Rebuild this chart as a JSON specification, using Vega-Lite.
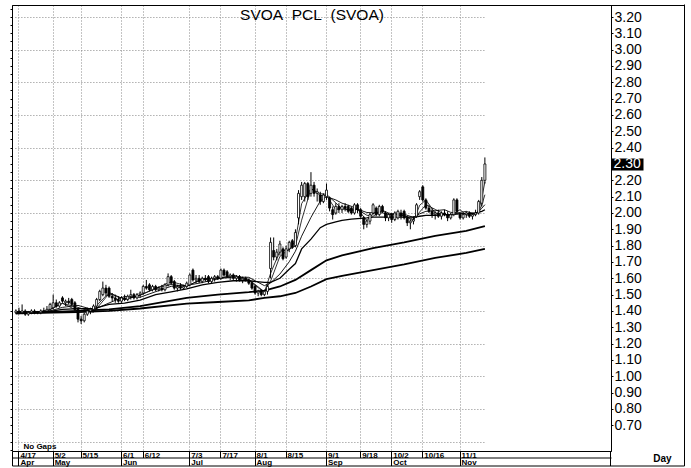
{
"$schema":"https://vega.github.io/schema/vega-lite/v6.json",
"width":599,"height":446,
"autosize":{"type":"none"},
"padding":{"left":12,"top":5,"right":80,"bottom":17},
"background":"white",
"config":{"view":{"stroke":"black","strokeWidth":1},"font":"Liberation Sans","axis":{"labelFont":"Liberation Sans","titleFont":"Liberation Sans"}},
"datasets":{
"k":[
{"d":"2023-04-14","o":1.39,"h":1.41,"l":1.38,"c":1.40},
{"d":"2023-04-17","o":1.40,"h":1.42,"l":1.38,"c":1.39},
{"d":"2023-04-18","o":1.39,"h":1.44,"l":1.38,"c":1.40},
{"d":"2023-04-19","o":1.40,"h":1.41,"l":1.37,"c":1.38},
{"d":"2023-04-20","o":1.38,"h":1.40,"l":1.37,"c":1.39},
{"d":"2023-04-21","o":1.39,"h":1.41,"l":1.38,"c":1.40},
{"d":"2023-04-24","o":1.40,"h":1.41,"l":1.38,"c":1.39},
{"d":"2023-04-25","o":1.39,"h":1.40,"l":1.38,"c":1.39},
{"d":"2023-04-26","o":1.39,"h":1.41,"l":1.38,"c":1.40},
{"d":"2023-04-27","o":1.40,"h":1.42,"l":1.39,"c":1.40},
{"d":"2023-04-28","o":1.40,"h":1.43,"l":1.39,"c":1.41},
{"d":"2023-05-01","o":1.41,"h":1.45,"l":1.40,"c":1.44},
{"d":"2023-05-02","o":1.42,"h":1.50,"l":1.41,"c":1.45},
{"d":"2023-05-03","o":1.45,"h":1.47,"l":1.42,"c":1.43},
{"d":"2023-05-04","o":1.43,"h":1.46,"l":1.42,"c":1.45},
{"d":"2023-05-05","o":1.48,"h":1.49,"l":1.45,"c":1.46},
{"d":"2023-05-08","o":1.45,"h":1.47,"l":1.43,"c":1.46},
{"d":"2023-05-09","o":1.46,"h":1.48,"l":1.44,"c":1.45},
{"d":"2023-05-10","o":1.47,"h":1.48,"l":1.43,"c":1.44},
{"d":"2023-05-11","o":1.45,"h":1.46,"l":1.40,"c":1.41},
{"d":"2023-05-12","o":1.41,"h":1.42,"l":1.33,"c":1.35},
{"d":"2023-05-15","o":1.35,"h":1.37,"l":1.32,"c":1.34},
{"d":"2023-05-16","o":1.34,"h":1.39,"l":1.33,"c":1.38},
{"d":"2023-05-17","o":1.38,"h":1.42,"l":1.37,"c":1.40},
{"d":"2023-05-18","o":1.40,"h":1.42,"l":1.38,"c":1.41},
{"d":"2023-05-19","o":1.41,"h":1.44,"l":1.40,"c":1.43},
{"d":"2023-05-22","o":1.43,"h":1.48,"l":1.41,"c":1.47},
{"d":"2023-05-23","o":1.47,"h":1.53,"l":1.46,"c":1.52},
{"d":"2023-05-24","o":1.50,"h":1.58,"l":1.49,"c":1.54},
{"d":"2023-05-25","o":1.54,"h":1.56,"l":1.49,"c":1.51},
{"d":"2023-05-26","o":1.54,"h":1.55,"l":1.48,"c":1.49},
{"d":"2023-05-29","o":1.49,"h":1.51,"l":1.46,"c":1.48},
{"d":"2023-05-30","o":1.48,"h":1.50,"l":1.45,"c":1.47},
{"d":"2023-05-31","o":1.47,"h":1.49,"l":1.45,"c":1.46},
{"d":"2023-06-01","o":1.46,"h":1.49,"l":1.45,"c":1.48},
{"d":"2023-06-02","o":1.48,"h":1.50,"l":1.46,"c":1.47},
{"d":"2023-06-05","o":1.47,"h":1.50,"l":1.46,"c":1.49},
{"d":"2023-06-06","o":1.49,"h":1.53,"l":1.47,"c":1.50},
{"d":"2023-06-07","o":1.50,"h":1.51,"l":1.47,"c":1.48},
{"d":"2023-06-08","o":1.48,"h":1.51,"l":1.47,"c":1.50},
{"d":"2023-06-09","o":1.50,"h":1.52,"l":1.48,"c":1.51},
{"d":"2023-06-12","o":1.51,"h":1.56,"l":1.50,"c":1.55},
{"d":"2023-06-13","o":1.55,"h":1.59,"l":1.53,"c":1.54},
{"d":"2023-06-14","o":1.56,"h":1.57,"l":1.52,"c":1.53},
{"d":"2023-06-15","o":1.53,"h":1.56,"l":1.52,"c":1.55},
{"d":"2023-06-16","o":1.55,"h":1.56,"l":1.52,"c":1.53},
{"d":"2023-06-19","o":1.53,"h":1.55,"l":1.52,"c":1.54},
{"d":"2023-06-20","o":1.54,"h":1.56,"l":1.52,"c":1.53},
{"d":"2023-06-21","o":1.53,"h":1.57,"l":1.52,"c":1.56},
{"d":"2023-06-22","o":1.56,"h":1.63,"l":1.55,"c":1.61},
{"d":"2023-06-23","o":1.61,"h":1.62,"l":1.56,"c":1.57},
{"d":"2023-06-26","o":1.58,"h":1.59,"l":1.53,"c":1.54},
{"d":"2023-06-27","o":1.54,"h":1.56,"l":1.52,"c":1.55},
{"d":"2023-06-28","o":1.55,"h":1.57,"l":1.53,"c":1.54},
{"d":"2023-06-29","o":1.54,"h":1.56,"l":1.53,"c":1.55},
{"d":"2023-06-30","o":1.55,"h":1.58,"l":1.54,"c":1.57},
{"d":"2023-07-03","o":1.56,"h":1.63,"l":1.55,"c":1.62},
{"d":"2023-07-04","o":1.65,"h":1.66,"l":1.58,"c":1.59},
{"d":"2023-07-05","o":1.59,"h":1.62,"l":1.57,"c":1.60},
{"d":"2023-07-06","o":1.60,"h":1.62,"l":1.57,"c":1.58},
{"d":"2023-07-07","o":1.58,"h":1.61,"l":1.57,"c":1.60},
{"d":"2023-07-10","o":1.60,"h":1.62,"l":1.58,"c":1.59},
{"d":"2023-07-11","o":1.61,"h":1.62,"l":1.57,"c":1.58},
{"d":"2023-07-12","o":1.58,"h":1.61,"l":1.57,"c":1.60},
{"d":"2023-07-13","o":1.60,"h":1.62,"l":1.58,"c":1.61},
{"d":"2023-07-14","o":1.61,"h":1.62,"l":1.59,"c":1.60},
{"d":"2023-07-17","o":1.60,"h":1.66,"l":1.59,"c":1.65},
{"d":"2023-07-18","o":1.65,"h":1.66,"l":1.61,"c":1.62},
{"d":"2023-07-19","o":1.64,"h":1.65,"l":1.60,"c":1.61},
{"d":"2023-07-20","o":1.61,"h":1.63,"l":1.59,"c":1.62},
{"d":"2023-07-21","o":1.62,"h":1.63,"l":1.59,"c":1.60},
{"d":"2023-07-24","o":1.60,"h":1.62,"l":1.58,"c":1.61},
{"d":"2023-07-25","o":1.61,"h":1.62,"l":1.58,"c":1.59},
{"d":"2023-07-26","o":1.59,"h":1.61,"l":1.57,"c":1.60},
{"d":"2023-07-27","o":1.60,"h":1.61,"l":1.58,"c":1.59},
{"d":"2023-07-28","o":1.59,"h":1.60,"l":1.56,"c":1.57},
{"d":"2023-07-31","o":1.57,"h":1.58,"l":1.53,"c":1.54},
{"d":"2023-08-01","o":1.55,"h":1.56,"l":1.50,"c":1.51},
{"d":"2023-08-02","o":1.51,"h":1.53,"l":1.49,"c":1.52},
{"d":"2023-08-03","o":1.52,"h":1.53,"l":1.49,"c":1.50},
{"d":"2023-08-04","o":1.50,"h":1.53,"l":1.49,"c":1.52},
{"d":"2023-08-07","o":1.52,"h":1.56,"l":1.50,"c":1.55},
{"d":"2023-08-08","o":1.66,"h":1.85,"l":1.60,"c":1.82},
{"d":"2023-08-09","o":1.77,"h":1.85,"l":1.71,"c":1.73},
{"d":"2023-08-10","o":1.73,"h":1.78,"l":1.71,"c":1.76},
{"d":"2023-08-11","o":1.76,"h":1.83,"l":1.74,"c":1.81},
{"d":"2023-08-14","o":1.78,"h":1.79,"l":1.71,"c":1.72},
{"d":"2023-08-15","o":1.73,"h":1.80,"l":1.72,"c":1.78},
{"d":"2023-08-16","o":1.78,"h":1.83,"l":1.76,"c":1.82},
{"d":"2023-08-17","o":1.83,"h":1.84,"l":1.78,"c":1.79},
{"d":"2023-08-18","o":1.80,"h":1.90,"l":1.79,"c":1.88},
{"d":"2023-08-21","o":1.97,"h":2.14,"l":1.93,"c":2.12},
{"d":"2023-08-22","o":2.10,"h":2.19,"l":2.08,"c":2.17},
{"d":"2023-08-23","o":2.10,"h":2.19,"l":2.07,"c":2.18},
{"d":"2023-08-24","o":2.18,"h":2.19,"l":2.08,"c":2.10},
{"d":"2023-08-25","o":2.12,"h":2.25,"l":2.10,"c":2.17},
{"d":"2023-08-28","o":2.17,"h":2.19,"l":2.10,"c":2.12},
{"d":"2023-08-29","o":2.12,"h":2.15,"l":2.07,"c":2.13},
{"d":"2023-08-30","o":2.11,"h":2.13,"l":2.05,"c":2.07},
{"d":"2023-08-31","o":2.07,"h":2.12,"l":2.06,"c":2.11},
{"d":"2023-09-01","o":2.10,"h":2.18,"l":2.08,"c":2.14},
{"d":"2023-09-04","o":2.09,"h":2.10,"l":2.01,"c":2.03},
{"d":"2023-09-05","o":2.02,"h":2.04,"l":1.96,"c":1.99},
{"d":"2023-09-06","o":2.00,"h":2.06,"l":1.99,"c":2.04},
{"d":"2023-09-07","o":2.04,"h":2.06,"l":2.00,"c":2.02},
{"d":"2023-09-08","o":2.02,"h":2.05,"l":2.00,"c":2.04},
{"d":"2023-09-11","o":2.04,"h":2.06,"l":2.01,"c":2.03},
{"d":"2023-09-12","o":2.04,"h":2.05,"l":2.00,"c":2.01},
{"d":"2023-09-13","o":2.03,"h":2.04,"l":1.99,"c":2.00},
{"d":"2023-09-14","o":2.00,"h":2.06,"l":1.99,"c":2.05},
{"d":"2023-09-15","o":2.05,"h":2.06,"l":2.00,"c":2.02},
{"d":"2023-09-18","o":2.02,"h":2.03,"l":1.97,"c":1.98},
{"d":"2023-09-19","o":1.97,"h":1.98,"l":1.90,"c":1.93},
{"d":"2023-09-20","o":1.93,"h":1.96,"l":1.91,"c":1.95},
{"d":"2023-09-21","o":1.95,"h":2.00,"l":1.93,"c":1.99},
{"d":"2023-09-22","o":2.00,"h":2.06,"l":1.99,"c":2.05},
{"d":"2023-09-25","o":2.03,"h":2.04,"l":1.98,"c":1.99},
{"d":"2023-09-26","o":1.99,"h":2.05,"l":1.98,"c":2.04},
{"d":"2023-09-27","o":2.04,"h":2.05,"l":2.00,"c":2.01},
{"d":"2023-09-28","o":2.00,"h":2.01,"l":1.95,"c":1.97},
{"d":"2023-09-29","o":1.97,"h":2.00,"l":1.95,"c":1.99},
{"d":"2023-10-02","o":1.99,"h":2.00,"l":1.94,"c":1.96},
{"d":"2023-10-03","o":1.96,"h":2.01,"l":1.95,"c":2.00},
{"d":"2023-10-04","o":1.97,"h":2.02,"l":1.96,"c":2.01},
{"d":"2023-10-05","o":2.00,"h":2.02,"l":1.96,"c":1.98},
{"d":"2023-10-06","o":2.01,"h":2.02,"l":1.96,"c":1.97},
{"d":"2023-10-09","o":1.97,"h":1.98,"l":1.92,"c":1.94},
{"d":"2023-10-10","o":1.94,"h":1.96,"l":1.90,"c":1.95},
{"d":"2023-10-11","o":1.95,"h":1.98,"l":1.93,"c":1.96},
{"d":"2023-10-12","o":1.98,"h":2.06,"l":1.97,"c":2.05},
{"d":"2023-10-13","o":2.10,"h":2.14,"l":2.08,"c":2.13},
{"d":"2023-10-16","o":2.16,"h":2.17,"l":2.07,"c":2.08},
{"d":"2023-10-17","o":2.08,"h":2.09,"l":2.02,"c":2.03},
{"d":"2023-10-18","o":2.03,"h":2.05,"l":2.00,"c":2.01},
{"d":"2023-10-19","o":2.01,"h":2.03,"l":1.97,"c":1.99},
{"d":"2023-10-20","o":1.99,"h":2.01,"l":1.96,"c":2.00},
{"d":"2023-10-23","o":2.00,"h":2.02,"l":1.97,"c":1.98},
{"d":"2023-10-24","o":1.98,"h":2.01,"l":1.96,"c":2.00},
{"d":"2023-10-25","o":2.00,"h":2.02,"l":1.98,"c":1.99},
{"d":"2023-10-26","o":1.99,"h":2.01,"l":1.95,"c":1.97},
{"d":"2023-10-27","o":1.97,"h":2.00,"l":1.96,"c":1.99},
{"d":"2023-10-30","o":1.99,"h":2.09,"l":1.98,"c":2.08},
{"d":"2023-10-31","o":2.08,"h":2.09,"l":2.00,"c":2.01},
{"d":"2023-11-01","o":1.99,"h":2.00,"l":1.96,"c":1.97},
{"d":"2023-11-02","o":1.97,"h":2.00,"l":1.96,"c":1.99},
{"d":"2023-11-03","o":1.99,"h":2.01,"l":1.97,"c":2.00},
{"d":"2023-11-06","o":2.00,"h":2.01,"l":1.97,"c":1.98},
{"d":"2023-11-07","o":1.98,"h":2.00,"l":1.96,"c":1.99},
{"d":"2023-11-08","o":1.99,"h":2.02,"l":1.98,"c":2.00},
{"d":"2023-11-09","o":2.00,"h":2.08,"l":1.99,"c":2.07},
{"d":"2023-11-10","o":2.06,"h":2.22,"l":2.04,"c":2.20},
{"d":"2023-11-13","o":2.20,"h":2.34,"l":2.18,"c":2.30}
],
"ma":[
{"d":"2023-04-14","m1":1.395,"m2":1.395,"m3":1.395,"m4":1.395,"m5":1.385,"m6":1.385},
{"d":"2023-04-21","m1":1.39,"m2":1.392,"m3":1.393,"m4":1.395},
{"d":"2023-04-28","m1":1.403,"m2":1.398,"m3":1.395,"m4":1.395},
{"d":"2023-05-05","m1":1.447,"m2":1.446,"m3":1.422,"m4":1.41},
{"d":"2023-05-12","m1":1.40,"m2":1.422,"m3":1.434,"m4":1.414,"m5":1.40,"m6":1.393},
{"d":"2023-05-19","m1":1.413,"m2":1.392,"m3":1.407,"m4":1.414},
{"d":"2023-05-26","m1":1.513,"m2":1.506,"m3":1.449,"m4":1.44,"m5":1.41,"m6":1.40},
{"d":"2023-06-02","m1":1.47,"m2":1.472,"m3":1.489,"m4":1.448},
{"d":"2023-06-09","m1":1.497,"m2":1.496,"m3":1.484,"m4":1.466,"m5":1.43,"m6":1.415},
{"d":"2023-06-16","m1":1.537,"m2":1.54,"m3":1.518,"m4":1.50},
{"d":"2023-06-23","m1":1.58,"m2":1.562,"m3":1.551,"m4":1.517},
{"d":"2023-06-30","m1":1.553,"m2":1.55,"m3":1.556,"m4":1.535,"m5":1.48,"m6":1.445},
{"d":"2023-07-07","m1":1.593,"m2":1.598,"m3":1.574,"m4":1.56},
{"d":"2023-07-14","m1":1.603,"m2":1.596,"m3":1.597,"m4":1.575,"m5":1.50,"m6":1.455},
{"d":"2023-07-21","m1":1.61,"m2":1.62,"m3":1.608,"m4":1.585},
{"d":"2023-07-28","m1":1.587,"m2":1.592,"m3":1.606,"m4":1.585,"m5":1.515,"m6":1.465},
{"d":"2023-08-04","m1":1.513,"m2":1.518,"m3":1.555,"m4":1.575,"m5":1.525,"m6":1.48},
{"d":"2023-08-08","m1":1.63,"m2":1.582,"m3":1.572,"m4":1.575},
{"d":"2023-08-11","m1":1.767,"m2":1.734,"m3":1.626,"m4":1.60,"m5":1.55,"m6":1.49},
{"d":"2023-08-16","m1":1.773,"m2":1.778,"m3":1.701,"m4":1.655},
{"d":"2023-08-18","m1":1.83,"m2":1.798,"m3":1.766,"m4":1.69,"m5":1.59,"m6":1.51},
{"d":"2023-08-22","m1":2.057,"m2":1.956,"m3":1.858,"m4":1.78},
{"d":"2023-08-25","m1":2.15,"m2":2.148,"m3":1.973,"m4":1.84,"m5":1.65,"m6":1.55},
{"d":"2023-08-30","m1":2.107,"m2":2.118,"m3":2.073,"m4":1.91},
{"d":"2023-09-01","m1":2.107,"m2":2.114,"m3":2.10,"m4":1.93,"m5":1.71,"m6":1.595},
{"d":"2023-09-06","m1":2.02,"m2":2.062,"m3":2.08,"m4":1.945},
{"d":"2023-09-08","m1":2.033,"m2":2.024,"m3":2.06,"m4":1.955,"m5":1.74,"m6":1.615},
{"d":"2023-09-13","m1":2.013,"m2":2.02,"m3":2.041,"m4":1.962},
{"d":"2023-09-15","m1":2.023,"m2":2.022,"m3":2.023,"m4":1.965},
{"d":"2023-09-20","m1":1.953,"m2":1.986,"m3":2.003,"m4":1.97},
{"d":"2023-09-22","m1":1.997,"m2":1.98,"m3":2.001,"m4":1.975,"m5":1.785,"m6":1.65},
{"d":"2023-09-27","m1":2.013,"m2":2.016,"m3":2.001,"m4":1.975},
{"d":"2023-09-29","m1":1.99,"m2":2.00,"m3":1.99,"m4":1.975},
{"d":"2023-10-04","m1":1.99,"m2":1.986,"m3":2.001,"m4":1.975},
{"d":"2023-10-06","m1":1.987,"m2":1.984,"m3":1.992,"m4":1.975,"m5":1.82,"m6":1.685},
{"d":"2023-10-11","m1":1.95,"m2":1.96,"m3":1.973,"m4":1.975},
{"d":"2023-10-13","m1":2.047,"m2":2.006,"m3":1.995,"m4":1.98},
{"d":"2023-10-17","m1":2.08,"m2":2.05,"m3":2.01,"m4":1.985},
{"d":"2023-10-20","m1":2.00,"m2":2.022,"m3":2.014,"m4":1.985,"m5":1.86,"m6":1.725},
{"d":"2023-10-25","m1":1.99,"m2":1.992,"m3":2.02,"m4":1.99},
{"d":"2023-10-27","m1":1.983,"m2":1.986,"m3":2.004,"m4":1.99},
{"d":"2023-11-01","m1":2.02,"m2":2.004,"m3":1.998,"m4":1.995},
{"d":"2023-11-03","m1":1.987,"m2":2.01,"m3":1.998,"m4":1.995,"m5":1.89,"m6":1.755},
{"d":"2023-11-08","m1":1.99,"m2":1.992,"m3":1.998,"m4":2.00},
{"d":"2023-11-09","m1":2.02,"m2":2.008,"m3":2.008,"m4":2.005},
{"d":"2023-11-10","m1":2.09,"m2":2.048,"m3":2.029,"m4":2.01},
{"d":"2023-11-13","m1":2.19,"m2":2.112,"m3":2.051,"m4":2.02,"m5":1.92,"m6":1.78}
],
"frame":[{"t":0}]
},
"resolve":{"scale":{"x":"independent","y":"independent"},"axis":{"x":"independent","y":"independent"}},
"layer":[
{
"resolve":{"scale":{"x":"shared","y":"shared"},"axis":{"x":"independent","y":"independent"}},
"layer":[
{"data":{"name":"ma"},"mark":{"type":"line","color":"black","strokeWidth":1.8,"invalid":"filter"},
 "encoding":{
  "x":{"field":"d","type":"ordinal","scale":{"type":"band","paddingInner":0.35,"paddingOuter":0,"range":[2.88,473.9]},"axis":null},
  "y":{"field":"m6","type":"quantitative","scale":{"domain":[0.5425,3.2735],"nice":false,"zero":false},
   "axis":{"orient":"left","values":[0.6,0.8,1.0,1.2,1.4,1.6,1.8,2.0,2.2,2.4,2.6,2.8,3.0,3.2],"grid":true,"gridDash":[1,2],"gridColor":"#888888","gridWidth":1,"labels":false,"ticks":false,"domain":false,"title":null}}}},
{"data":{"name":"ma"},"mark":{"type":"line","color":"black","strokeWidth":1.8,"invalid":"filter"},
 "encoding":{
  "x":{"field":"d","type":"ordinal",
   "axis":{"orient":"top","domain":false,"ticks":false,"labels":false,"grid":false,"title":"SVOA\u00a0\u00a0PCL\u00a0\u00a0(SVOA)","titleX":299.5,"titleY":14,"titleAlign":"center","titleBaseline":"alphabetic","titleFontSize":15.5,"titleFontWeight":"normal","titleColor":"black"}},
  "y":{"field":"m5","type":"quantitative","axis":null}}},
{"data":{"name":"ma"},"mark":{"type":"line","color":"black","strokeWidth":1.3,"invalid":"filter"},
 "encoding":{
  "x":{"field":"d","type":"ordinal","axis":null},
  "y":{"field":"m4","type":"quantitative","axis":{"orient":"left","tickCount":55,"tickSize":2,"tickColor":"black","labels":false,"grid":false,"domain":false,"title":null}}}},
{"data":{"name":"ma"},"mark":{"type":"line","color":"black","strokeWidth":0.9,"invalid":"filter"},
 "encoding":{
  "x":{"field":"d","type":"ordinal","axis":null},
  "y":{"field":"m3","type":"quantitative","axis":null}}},
{"data":{"name":"ma"},"mark":{"type":"line","color":"black","strokeWidth":0.8,"invalid":"filter"},
 "encoding":{
  "x":{"field":"d","type":"ordinal","axis":null},
  "y":{"field":"m2","type":"quantitative","axis":null}}},
{"data":{"name":"ma"},"mark":{"type":"line","color":"black","strokeWidth":0.8,"invalid":"filter"},
 "encoding":{
  "x":{"field":"d","type":"ordinal","axis":null},
  "y":{"field":"m1","type":"quantitative","axis":null}}},
{"data":{"name":"k"},"mark":{"type":"rule","color":"black","strokeWidth":1},
 "encoding":{
  "x":{"field":"d","type":"ordinal",
   "axis":{"orient":"bottom","offset":6.5,"values":["2023-04-17","2023-05-02","2023-06-01","2023-07-03","2023-08-01","2023-09-01","2023-10-02","2023-11-01"],
    "labelExpr":"utcFormat(toDate(datum.value), '%b')","labelAngle":0,"labelAlign":"left","labelBaseline":"alphabetic","labelOffset":1.5,"labelPadding":-1,"labelFontSize":8,"labelFontWeight":"bold","labelColor":"black","labelOverlap":false,"labelFlush":false,"labelBound":false,
    "tickSize":8,"tickColor":"black","tickWidth":1,"domain":false,"grid":false,
    "title":"No Gaps","titleX":11,"titleY":-9,"titleAlign":"left","titleBaseline":"alphabetic","titleFontSize":8,"titleFontWeight":"bold","titleColor":"black"}},
  "y":{"field":"l","type":"quantitative",
   "axis":{"orient":"right","values":[2.3],"format":".2f","domain":false,"tickSize":32,"tickWidth":12,"tickColor":"black","labelColor":"white","labelPadding":-30,"labelFontSize":14,"labelBaseline":"middle","grid":false,"title":null,"zindex":2}},
  "y2":{"field":"h"}}},
{"data":{"name":"k"},"mark":{"type":"bar","stroke":"black","strokeWidth":0.8},
 "encoding":{
  "x":{"field":"d","type":"ordinal",
   "axis":{"orient":"bottom","values":["2023-04-17","2023-05-02","2023-05-15","2023-06-01","2023-06-12","2023-07-03","2023-07-17","2023-08-01","2023-08-15","2023-09-01","2023-09-18","2023-10-02","2023-10-16","2023-11-01"],
    "labelExpr":"toNumber(substring(datum.value,5,7)) + '/' + toNumber(substring(datum.value,8,10))","labelAngle":0,"labelAlign":"left","labelBaseline":"alphabetic","labelOffset":1.5,"labelPadding":-0.5,"labelFontSize":8,"labelFontWeight":"bold","labelColor":"black","labelOverlap":false,"labelFlush":false,"labelBound":false,
    "tickSize":6.5,"tickColor":"black","tickWidth":1,"domain":false,"grid":true,"gridDash":[1,2],"gridColor":"#888888","gridWidth":1,"title":null}},
  "y":{"field":"o","type":"quantitative",
   "axis":{"orient":"right","values":[0.7,0.8,0.9,1.0,1.1,1.2,1.3,1.4,1.5,1.6,1.7,1.8,1.9,2.0,2.1,2.2,2.4,2.5,2.6,2.7,2.8,2.9,3.0,3.1,3.2],"format":".2f","labelFontSize":14,"labelColor":"black","labelPadding":1,"labelBaseline":"middle","tickSize":2,"tickColor":"black","domainColor":"black","grid":false,"title":null,"labelOverlap":false,"labelFlush":false,"labelBound":false}},
  "y2":{"field":"c"},
  "fill":{"condition":{"test":"datum.c < datum.o","value":"black"},"value":"white"}}}
]
},
{
"data":{"name":"frame"},
"resolve":{"scale":{"x":"shared"},"axis":{"x":"independent"}},
"layer":[
{"mark":{"type":"point","opacity":0},
 "encoding":{"x":{"field":"t","type":"quantitative","scale":{"domain":[0,599],"range":[0,599]},
   "axis":{"orient":"bottom","values":[0,599],"tickSize":14.5,"tickColor":"black","tickWidth":1,"labels":false,"domain":false,"grid":false,"title":null}}}},
{"mark":{"type":"point","opacity":0},
 "encoding":{"x":{"field":"t","type":"quantitative",
   "axis":{"orient":"bottom","offset":6.5,"ticks":false,"labels":false,"domain":true,"domainColor":"black","grid":false,"title":null}}}}
]
},
{
"data":{"name":"frame"},
"resolve":{"scale":{"x":"shared","y":"shared"},"axis":{"x":"independent","y":"independent"}},
"layer":[
{"mark":{"type":"point","opacity":0},
 "encoding":{"x":{"field":"t","type":"quantitative","scale":{"domain":[0,672],"range":[0,672]},
   "axis":{"orient":"bottom","offset":14.5,"ticks":false,"labels":false,"domain":true,"domainColor":"black","grid":false,"title":"Day","titleX":650,"titleY":-4.5,"titleAlign":"center","titleBaseline":"alphabetic","titleFontSize":10,"titleFontWeight":"bold","titleColor":"black"}},
  "y":{"field":"t","type":"quantitative","scale":{"domain":[0,1],"range":[460.5,-1]},
   "axis":{"orient":"right","offset":73,"ticks":false,"labels":false,"domain":true,"domainColor":"black","grid":false,"title":null}}}},
{"mark":{"type":"point","opacity":0},
 "encoding":{"x":{"field":"t","type":"quantitative",
   "axis":{"orient":"top","offset":0,"ticks":false,"labels":false,"domain":true,"domainColor":"black","grid":false,"title":null}},
  "y":{"field":"t","type":"quantitative","axis":null}}}
]
}
]
}
